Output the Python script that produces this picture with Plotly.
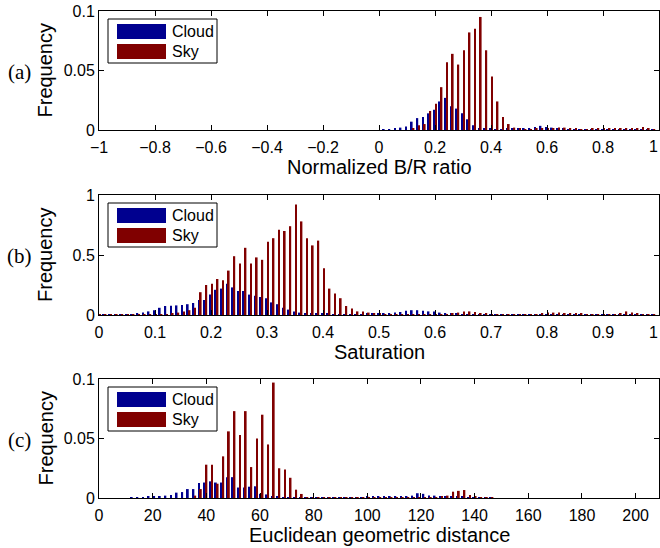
import plotly.graph_objects as go
from plotly.subplots import make_subplots

W, H = 660, 548
BLUE = "#00008F"
RED = "#800000"
FONT = "Liberation Sans"

# (a) normalized B/R ratio, bins of 0.02 from 0 to 1
a_x = [round(0.02 * i, 2) for i in range(51)]
a_cloud = [0, 0.0005, 0.0007, 0.001, 0.002, 0.003, 0.007, 0.010, 0.011, 0.014,
           0.017, 0.024, 0.027, 0.020, 0.018, 0.014, 0.009, 0.004, 0.0015, 0.001,
           0.001, 0.0008, 0.0008, 0.001, 0.001, 0.001, 0.001, 0.0015, 0.0025, 0.0035,
           0.0025, 0.002, 0.0015, 0.001, 0.0008, 0.0005, 0.0003, 0.0003, 0.0003, 0.0003,
           0.0003, 0.0003, 0.0003, 0.0003, 0.0003, 0.0003, 0.0003, 0.0003, 0.0003, 0.0003, 0]
a_sky = [0, 0, 0, 0, 0, 0, 0.001, 0.004, 0.005, 0.016,
         0.022, 0.036, 0.057, 0.064, 0.055, 0.067, 0.082, 0.085, 0.095, 0.067,
         0.045, 0.024, 0.011, 0.005, 0.002, 0.001, 0.0008, 0.0008, 0.001, 0.001,
         0.001, 0.0015, 0.002, 0.002, 0.0015, 0.001, 0.0008, 0.0008, 0.001, 0.001,
         0.0015, 0.0015, 0.0015, 0.0015, 0.001, 0.001, 0.0015, 0.0025, 0.0012, 0.0005, 0]
a_ticks = [-1, -0.8, -0.6, -0.4, -0.2, 0, 0.2, 0.4, 0.6, 0.8, 1]
a_ticktext = ["\u22121", "\u22120.8", "\u22120.6", "\u22120.4", "\u22120.2",
              "0", "0.2", "0.4", "0.6", "0.8", "1"]

# (b) saturation, bins of 0.01 from 0 to 1
b_x = [round(0.01 * i, 2) for i in range(101)]
b_cloud = [0.002, 0.002, 0.002, 0.003, 0.004, 0.005, 0.008, 0.014, 0.02, 0.03,
           0.04, 0.06, 0.075, 0.078, 0.08, 0.083, 0.09, 0.10, 0.125, 0.125,
           0.17, 0.21, 0.22, 0.26, 0.23, 0.20, 0.20, 0.17, 0.16, 0.15,
           0.14, 0.105, 0.09, 0.06, 0.045, 0.03, 0.02, 0.015, 0.012, 0.01,
           0.01, 0.01, 0.008, 0.008, 0.008, 0.008, 0.008, 0.008, 0.01, 0.012,
           0.015, 0.015, 0.015, 0.02, 0.025, 0.035, 0.04, 0.04, 0.035, 0.03,
           0.03, 0.02, 0.015, 0.012, 0.01, 0.008, 0.006, 0.005, 0.005, 0.004,
           0.003, 0.003, 0.003, 0.003, 0.003, 0.003, 0.003, 0.003, 0.003, 0.003,
           0.003, 0.003, 0.003, 0.003, 0.003, 0.003, 0.003, 0.003, 0.003, 0.003,
           0.003, 0.003, 0.003, 0.003, 0.003, 0.003, 0.003, 0.002, 0.002, 0.002, 0]
b_sky = [0.001, 0.001, 0.001, 0.001, 0.001, 0.001, 0.001, 0.001, 0.001, 0.001,
         0.003, 0.005, 0.008, 0.012, 0.02, 0.03, 0.04, 0.06, 0.19, 0.25,
         0.26, 0.30, 0.29, 0.37, 0.49, 0.43, 0.56, 0.43, 0.48, 0.46,
         0.61, 0.64, 0.71, 0.70, 0.74, 0.92, 0.78, 0.64, 0.58, 0.62,
         0.39, 0.22, 0.18, 0.14, 0.075, 0.055, 0.03, 0.03, 0.02, 0.015,
         0.012, 0.008, 0.008, 0.008, 0.008, 0.008, 0.008, 0.008, 0.008, 0.008,
         0.008, 0.008, 0.008, 0.015, 0.02, 0.03, 0.03, 0.025, 0.015, 0.01,
         0.006, 0.006, 0.006, 0.006, 0.006, 0.006, 0.006, 0.006, 0.006, 0.015,
         0.02, 0.02, 0.02, 0.015, 0.015, 0.015, 0.01, 0.008, 0.008, 0.008,
         0.008, 0.008, 0.008, 0.015, 0.03, 0.02, 0.01, 0.005, 0.002, 0.002, 0]
b_ticks = [0, 0.1, 0.2, 0.3, 0.4, 0.5, 0.6, 0.7, 0.8, 0.9, 1]
b_ticktext = ["0", "0.1", "0.2", "0.3", "0.4", "0.5", "0.6", "0.7", "0.8", "0.9", "1"]

# (c) Euclidean geometric distance, bins of ~2.09
C_BIN = 2.09
c_cloud = [0, 0, 0, 0, 0, 0, 0.0003, 0.0003, 0.0005, 0.001,
           0.0015, 0.0015, 0.002, 0.0025, 0.0045, 0.005, 0.0075, 0.0075, 0.0125, 0.013,
           0.014, 0.013, 0.013, 0.0175, 0.0175, 0.0088, 0.0088, 0.0095, 0.0098, 0.0035,
           0.003, 0.0012, 0.001, 0.0008, 0.0006, 0.0005, 0.0005, 0.0005, 0.0005, 0.0005,
           0.0005, 0.0005, 0.0005, 0.0005, 0.0005, 0.0005, 0.0005, 0.0008, 0.0012, 0.0012,
           0.0012, 0.0012, 0.0012, 0.0012, 0.0012, 0.0015, 0.002, 0.004, 0.0035, 0.002,
           0.002, 0.0015, 0.0015, 0.001, 0.001, 0.0015, 0.0005, 0.0002, 0.0002, 0.0002, 0.0002]
c_sky = [0, 0, 0, 0, 0, 0, 0, 0, 0, 0,
         0, 0, 0, 0, 0, 0, 0, 0.002, 0.0075, 0.028,
         0.028, 0.012, 0.035, 0.056, 0.073, 0.053, 0.073, 0.026, 0.050, 0.070,
         0.045, 0.097, 0.025, 0.024, 0.017, 0.007, 0.0034, 0.0005, 0.0002, 0.0002,
         0.0002, 0.0002, 0.0002, 0.0002, 0.0002, 0.0002, 0.0002, 0.0002, 0.0002, 0.0002,
         0.0002, 0.0002, 0.0002, 0.0002, 0.0002, 0.0002, 0.0002, 0.0002, 0.0002, 0.0002,
         0.0002, 0.001, 0.002, 0.0053, 0.006, 0.0067, 0.0025, 0.001, 0.0002, 0.0002, 0.0002]
c_x = [round(C_BIN * i, 2) for i in range(len(c_cloud))]
c_ticks = [0, 20, 40, 60, 80, 100, 120, 140, 160, 180, 200]
c_ticktext = [str(v) for v in c_ticks]

panels = [
    dict(x=a_x, cloud=a_cloud, sky=a_sky, xrange=[-1, 1], xticks=a_ticks, xtext=a_ticktext,
         yrange=[0, 0.1], yticks=[0, 0.05, 0.1], ytext=["0", "0.05", "0.1"],
         title="Normalized B/R ratio", tag="(a)", top=11, bottom=130),
    dict(x=b_x, cloud=b_cloud, sky=b_sky, xrange=[0, 1], xticks=b_ticks, xtext=b_ticktext,
         yrange=[0, 1], yticks=[0, 0.5, 1], ytext=["0", "0.5", "1"],
         title="Saturation", tag="(b)", top=195, bottom=315),
    dict(x=c_x, cloud=c_cloud, sky=c_sky, xrange=[0, 208.7], xticks=c_ticks, xtext=c_ticktext,
         yrange=[0, 0.1], yticks=[0, 0.05, 0.1], ytext=["0", "0.05", "0.1"],
         title="Euclidean geometric distance", tag="(c)", top=379, bottom=498),
]

X0, X1 = 99, 659


def px(x):
    return x / W


def py(y):
    return 1 - y / H


def label(text, x, y, size, family=FONT, angle=0, xanchor="center"):
    return dict(text=text, x=px(x), y=py(y), xref="paper", yref="paper",
                xanchor=xanchor, yanchor="middle", textangle=angle, showarrow=False,
                font=dict(size=size, family=family, color="black"))


fig = make_subplots(rows=3, cols=1)
shapes = []
annotations = []

for i, p in enumerate(panels):
    row = i + 1
    fig.add_trace(go.Bar(x=p["x"], y=p["cloud"], name="Cloud", marker_color=BLUE,
                         marker_line_width=0, showlegend=False), row=row, col=1)
    fig.add_trace(go.Bar(x=p["x"], y=p["sky"], name="Sky", marker_color=RED,
                         marker_line_width=0, showlegend=False), row=row, col=1)

    xtext = list(p["xtext"])
    if p["xticks"][-1] == p["xrange"][1]:
        # last label sits on the window edge: right-align it so it stays readable
        annotations.append(label(xtext[-1], 660, p["bottom"] + 17, 16, xanchor="right"))
        xtext[-1] = ""
    fig.update_xaxes(domain=[px(X0), px(X1)], range=p["xrange"],
                     tickvals=p["xticks"], ticktext=xtext, row=row, col=1)
    fig.update_yaxes(domain=[py(p["bottom"]), py(p["top"])], range=p["yrange"],
                     tickvals=p["yticks"], ticktext=p["ytext"], row=row, col=1)

    mid = (p["top"] + p["bottom"]) / 2
    annotations.append(label(p["title"], (X0 + X1) / 2, p["bottom"] + 37, 20))
    annotations.append(label("Frequency", 45, mid, 20, angle=-90))
    annotations.append(label(p["tag"], 19.5, mid + 1, 21, family="Liberation Serif"))

    # legend box in MATLAB style
    t = p["top"]
    shapes.append(dict(type="rect", xref="paper", yref="paper",
                       x0=px(108), x1=px(217), y0=py(t + 8), y1=py(t + 52),
                       line=dict(color="black", width=1), fillcolor="white"))
    for j, (lbl, col) in enumerate([("Cloud", BLUE), ("Sky", RED)]):
        s0 = t + 13 + 20 * j
        shapes.append(dict(type="rect", xref="paper", yref="paper",
                           x0=px(117), x1=px(166), y0=py(s0), y1=py(s0 + 15),
                           line=dict(width=0), fillcolor=col))
        annotations.append(label(lbl, 170, s0 + 7.5, 16, xanchor="left"))

fig.update_xaxes(showline=True, linecolor="black", linewidth=1, mirror="ticks",
                 ticks="inside", ticklen=5, tickcolor="black", showgrid=False,
                 zeroline=False, automargin=False, ticklabelstandoff=3,
                 ticklabeloverflow="allow",
                 tickfont=dict(size=16, family=FONT, color="black"))
fig.update_yaxes(showline=True, linecolor="black", linewidth=1, mirror="ticks",
                 ticks="inside", ticklen=5, tickcolor="black", showgrid=False,
                 zeroline=False, automargin=False, ticklabeloverflow="allow",
                 tickfont=dict(size=16, family=FONT, color="black"))

fig.update_layout(
    width=W, height=H,
    margin=dict(l=0, r=0, t=0, b=0, autoexpand=False),
    template="none",
    plot_bgcolor="white",
    paper_bgcolor="white",
    barmode="group",
    bargap=0.36,
    bargroupgap=0,
    showlegend=False,
    shapes=shapes,
    annotations=annotations,
)

# the page body has a default 8px margin; drop it so the figure fills the window
fig.write_html("out.html", config={"displayModeBar": False},
               post_script="document.body.style.margin = '0';")
